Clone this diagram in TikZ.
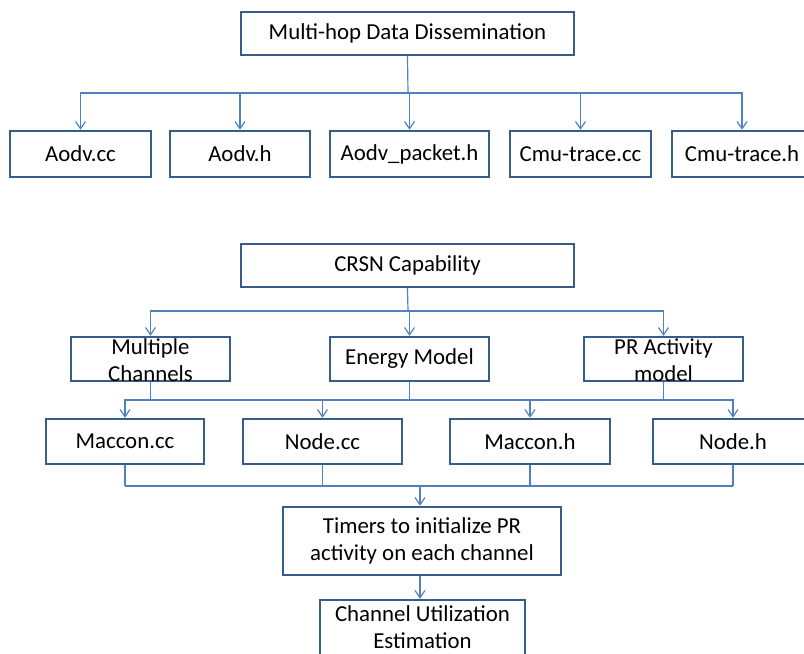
\documentclass[tikz,border=0pt]{standalone}
\usepackage{fontspec}
\setmainfont{Carlito}
\usetikzlibrary{arrows.meta}

\definecolor{boxline}{RGB}{56, 93, 138}
\definecolor{linkline}{RGB}{79, 129, 189}

\begin{document}
\begin{tikzpicture}[
        x=0.03cm, y=-0.03cm,
        box/.style={draw=boxline, line width=2pt, fill=white, inner sep=0pt,
            minimum height=1.35cm, font=\fontsize{19.5}{23}\selectfont, align=center},
        lbl/.style={inner sep=0pt, font=\fontsize{19.5}{23}\selectfont, align=center},
        bus/.style={draw=linkline, line width=1pt},
        arrow/.style={bus, -{Straight Barb[length=2.2mm, width=3mm]}}
    ]
    \useasboundingbox (0,0) rectangle (804,654);

    % first tree
    \node[box, minimum width=9.99cm, minimum height=1.29cm] (mhd) at (407.5,33.5) {Multi-hop Data Dissemination};
    \node[box, minimum width=4.23cm, minimum height=1.38cm] (aodvcc) at (80.5,154) {Aodv.cc};
    \node[box, minimum width=4.2cm, minimum height=1.38cm] (aodvh) at (240,154) {Aodv.h};
    \node[box, minimum width=4.77cm, minimum height=1.38cm] (aodvpkt) at (409.5,154) {Aodv\_packet.h};
    \node[box, minimum width=4.23cm, minimum height=1.38cm] (cmucc) at (580.5,154) {Cmu-trace.cc};
    \node[box, minimum width=4.2cm, minimum height=1.38cm] (cmuh) at (742,154) {Cmu-trace.h};

    \coordinate (bus1) at (408,93);
    \draw[bus] (mhd.south) -- (bus1);
    \foreach \n in {aodvcc,aodvh,aodvpkt,cmucc,cmuh}
        \draw[arrow] (bus1) -| (\n.north);

    % second tree
    \node[box, minimum width=9.99cm, minimum height=1.29cm] (crsn) at (407.5,265.5) {CRSN Capability};
    \node[box, minimum width=4.77cm, minimum height=1.32cm] (mc) at (150.5,359) {};
    \node[lbl] (mc-t) at (150.5,360) {Multiple\\Channels};
    \node[box, minimum width=4.77cm, minimum height=1.32cm] (em) at (409.5,359) {Energy Model};
    \node[box, minimum width=4.77cm, minimum height=1.32cm] (pra) at (663.5,359) {};
    \node[lbl] (pra-t) at (663.5,360) {PR Activity\\model};

    \coordinate (bus2) at (408,311);
    \draw[bus] (crsn.south) -- (bus2);
    \foreach \n in {mc,em,pra}
        \draw[arrow] (bus2) -| (\n.north);

    \node[box, minimum width=4.74cm] (mcc) at (125,441.5) {Maccon.cc};
    \node[box, minimum width=4.77cm] (ncc) at (322.5,441.5) {Node.cc};
    \node[box, minimum width=4.8cm] (mh) at (530,441.5) {Maccon.h};
    \node[box, minimum width=4.8cm] (nh) at (733,441.5) {Node.h};

    \coordinate (bus3) at (408,400);
    \foreach \n in {mc,em,pra}
        \draw[bus] (\n.south) -- (\n.south |- bus3);
    \foreach \n in {mcc,ncc,mh,nh}
        \draw[arrow] (bus3) -| (\n.north);

    \node[box, minimum width=8.34cm, minimum height=2.04cm] (timers) at (422,541) {Timers to initialize PR\\activity on each channel};
    \node[box, minimum width=6.15cm, minimum height=1.8cm] (cue) at (422.5,630) {};
    \node[lbl] (cue-t) at (422.5,627) {Channel Utilization\\Estimation};

    \coordinate (bus4) at (420,486);
    \foreach \n in {mcc,ncc,mh,nh}
        \draw[bus] (\n.south) -- (\n.south |- bus4);
    \draw[bus] (mcc.south |- bus4) -- (nh.south |- bus4);
    \draw[arrow] (bus4) -- (bus4 |- timers.north);
    \draw[arrow] (timers.south -| bus4) -- (cue.north -| bus4);
\end{tikzpicture}
\end{document}
